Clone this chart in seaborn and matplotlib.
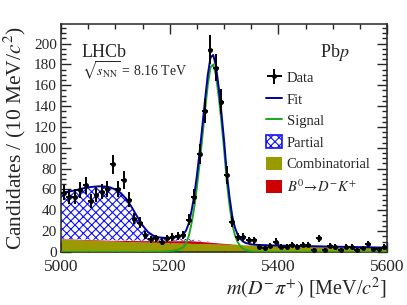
import matplotlib
matplotlib.use("Agg")
import matplotlib.pyplot as plt
import matplotlib.patches as mpatches
from matplotlib.ticker import MultipleLocator
import seaborn as sns
import numpy as np
import pandas as pd

# data points, 10 MeV bins
bin_centres = [5005, 5015, 5025, 5035, 5045, 5055, 5065, 5075, 5085, 5095,
               5105, 5115, 5125, 5135, 5145, 5155, 5165, 5175, 5185, 5195,
               5205, 5215, 5225, 5235, 5245, 5255, 5265, 5275, 5285, 5295,
               5305, 5315, 5325, 5335, 5345, 5355, 5365, 5375, 5385, 5395,
               5405, 5415, 5425, 5435, 5445, 5455, 5465, 5475, 5485, 5495,
               5505, 5515, 5525, 5535, 5545, 5555, 5565, 5575, 5585, 5595]
counts = [57, 53, 53, 59, 64, 49, 55, 58, 60, 84,
          60, 69, 50, 32, 28, 16, 12, 13, 10, 13,
          14, 15, 16, 31, 53, 94, 135, 194, 177, 144,
          74, 29, 14, 14, 11, 11, 5, 4, 6, 10,
          5, 5, 7, 5, 7, 7, 2, 13, 2, 6,
          5, 2, 5, 5, 2, 4, 8, 3, 3, 5]

# fit components
mass_grid = ([5000, 5010, 5020, 5030, 5040, 5050, 5060, 5070, 5080, 5090, 5100,
              5110, 5120, 5130, 5140, 5150, 5160, 5170, 5180, 5190, 5200, 5210, 5220]
             + [5225, 5230, 5235, 5240, 5245, 5250, 5255, 5260, 5265, 5270, 5275, 5280,
                5285, 5290, 5295, 5300, 5305, 5310, 5315, 5320, 5325, 5330, 5335, 5340]
             + [5350, 5360, 5370, 5380, 5390, 5400, 5410, 5420, 5430, 5440, 5450, 5460,
                5470, 5480, 5490, 5500, 5510, 5520, 5530, 5540, 5550, 5560, 5570, 5580,
                5590, 5600])
combinatorial = ([12.3, 12.1, 11.9, 11.7, 11.5, 11.3, 11.1, 10.9, 10.7, 10.5, 10.4,
                  10.2, 10.0, 9.8, 9.7, 9.5, 9.4, 9.2, 9.1, 8.9, 8.8, 8.6, 8.5]
                 + [8.4, 8.4, 8.3, 8.2, 8.1, 8.1, 8.0, 7.9, 7.8, 7.8, 7.7, 7.6,
                    7.6, 7.5, 7.4, 7.4, 7.3, 7.2, 7.2, 7.1, 7.0, 7.0, 6.9, 6.8]
                 + [6.7, 6.6, 6.5, 6.4, 6.2, 6.1, 6.0, 5.9, 5.8, 5.7, 5.6, 5.5,
                    5.4, 5.3, 5.2, 5.1, 5.0, 4.9, 4.8, 4.7, 4.6, 4.5, 4.4, 4.3,
                    4.2, 4.1])
misid_dk = ([0.4, 0.4, 0.5, 0.5, 0.5, 0.6, 0.6, 0.6, 0.7, 0.7, 0.8,
             0.9, 1.0, 1.1, 1.2, 1.3, 1.4, 1.5, 1.7, 1.8, 2.0, 2.1, 2.3]
            + [2.4, 2.4, 2.5, 2.5, 2.4, 2.3, 2.2, 2.0, 1.9, 1.7, 1.6, 1.4,
               1.3, 1.1, 1.0, 0.8, 0.7, 0.6, 0.4, 0.3, 0.2, 0.1, 0.05, 0.0]
            + [0.0] * 26)
partial = ([43.8, 45.0, 46.1, 47.5, 49.0, 50.1, 50.9, 51.5, 51.4, 50.8, 48.8,
            45.4, 40.0, 32.1, 23.1, 14.7, 8.2, 4.8, 3.0, 2.4, 1.9, 1.8, 1.7]
           + [1.7, 1.6, 1.5, 1.3, 1.1, 0.9, 0.7, 0.5, 0.4, 0.3, 0.2, 0.1,
              0.0, 0.0, 0.0, 0.0, 0.0, 0.0, 0.0, 0.0, 0.0, 0.0, 0.0, 0.0]
           + [0.0] * 26)
signal = ([0.0] * 16 + [0.05, 0.1, 0.2, 0.4, 0.8, 1.5, 3.0]
          + [4.5, 8.0, 15.0, 27.0, 42.0, 62.0, 85.0, 110.0, 136.0, 160.0, 177.0, 180.0,
             170.0, 150.0, 126.0, 99.0, 68.0, 45.0, 27.0, 16.0, 9.5, 5.5, 3.0, 1.8]
          + [0.6, 0.2, 0.1] + [0.0] * 23)

df = pd.DataFrame({"m": bin_centres, "n": counts})
comp = pd.DataFrame({"m": mass_grid, "comb": combinatorial, "dk": misid_dk,
                     "part": partial, "sig": signal})
comp["lvl1"] = comp["comb"]
comp["lvl2"] = comp["lvl1"] + comp["dk"]
comp["lvl3"] = comp["lvl2"] + comp["part"]
comp["fit"] = comp["lvl3"] + comp["sig"]

sns.set_theme(style="ticks")
plt.rcParams["font.family"] = ["Liberation Serif", "DejaVu Serif"]
plt.rcParams["mathtext.fontset"] = "stix"
plt.rcParams["hatch.linewidth"] = 0.8
plt.rcParams["axes.linewidth"] = 1.1

olive = "#999900"
red = "#cc0000"
blue = "#0000a0"
hatch_blue = "#1010ff"
green = "#1fa51f"

fig = plt.figure(figsize=(4.07, 3.05), dpi=100)
ax = fig.add_axes([0.150, 0.174, 0.801, 0.748])

ax.fill_between(comp["m"], 0, comp["lvl1"], color=olive, lw=0, zorder=1)
ax.fill_between(comp["m"], comp["lvl1"], comp["lvl2"], color=red, lw=0, zorder=1)
ax.fill_between(comp["m"], comp["lvl2"], comp["lvl3"], facecolor="white",
                edgecolor=hatch_blue, hatch="xxxx", lw=0, zorder=1)
sns.lineplot(x="m", y="sig", data=comp, ax=ax, color=green, lw=1.4, zorder=3)
sns.lineplot(x="m", y="fit", data=comp, ax=ax, color=blue, lw=1.4, zorder=3)
ax.errorbar(df["m"], df["n"], xerr=5, yerr=np.sqrt(df["n"]), fmt="o", ms=2.5,
            color="black", elinewidth=1.4, capsize=0, zorder=4)

ax.set_xlim(5000, 5600)
ax.set_ylim(0, 219)
ax.xaxis.set_major_locator(MultipleLocator(200))
ax.xaxis.set_minor_locator(MultipleLocator(50))
ax.yaxis.set_major_locator(MultipleLocator(20))
ax.yaxis.set_minor_locator(MultipleLocator(5))
ax.tick_params(which="both", direction="in", top=True, right=True, width=1.0)
ax.tick_params(which="major", length=7)
ax.tick_params(which="minor", length=3.5)
ax.tick_params(axis="x", labelsize=12.5, pad=5)
ax.tick_params(axis="y", labelsize=11, pad=3)

ax.set_xlabel(r"$m(D^{-}\pi^{+})$ [MeV/$c^{2}$]", fontsize=14.5, loc="right", labelpad=1)
ax.set_ylabel(r"Candidates / (10 MeV/$c^{2}$)", fontsize=15.5, labelpad=4)

ax.text(0.063, 0.855, "LHCb", transform=ax.transAxes, fontsize=13)
ax.text(0.063, 0.77, r"$\sqrt{s_{\rm NN}}$ = 8.16 TeV", transform=ax.transAxes, fontsize=10)
ax.text(0.885, 0.855, r"Pb$p$", transform=ax.transAxes, fontsize=13, ha="right")

h_data = ax.errorbar([], [], xerr=[], yerr=[], fmt="o", ms=2.5, color="black",
                     elinewidth=1.4, capsize=0)
h_fit = plt.Line2D([], [], color=blue, lw=1.4)
h_sig = plt.Line2D([], [], color=green, lw=1.4)
h_part = mpatches.Patch(facecolor="white", edgecolor=hatch_blue, hatch="xxxx", lw=1.2)
h_comb = mpatches.Patch(facecolor=olive, edgecolor="none")
h_dk = mpatches.Patch(facecolor=red, edgecolor="none")
ax.legend([h_data, h_fit, h_sig, h_part, h_comb, h_dk],
          ["Data", "Fit", "Signal", "Partial", "Combinatorial",
           r"$B^0\!\rightarrow\! D^{-}K^{+}$"],
          loc="upper left", bbox_to_anchor=(0.63, 0.795), frameon=False,
          fontsize=10.5, handlelength=1.1, handleheight=1.0, handletextpad=0.3,
          labelspacing=0.48, borderpad=0, borderaxespad=0)

fig.savefig("out.png", dpi=100)
